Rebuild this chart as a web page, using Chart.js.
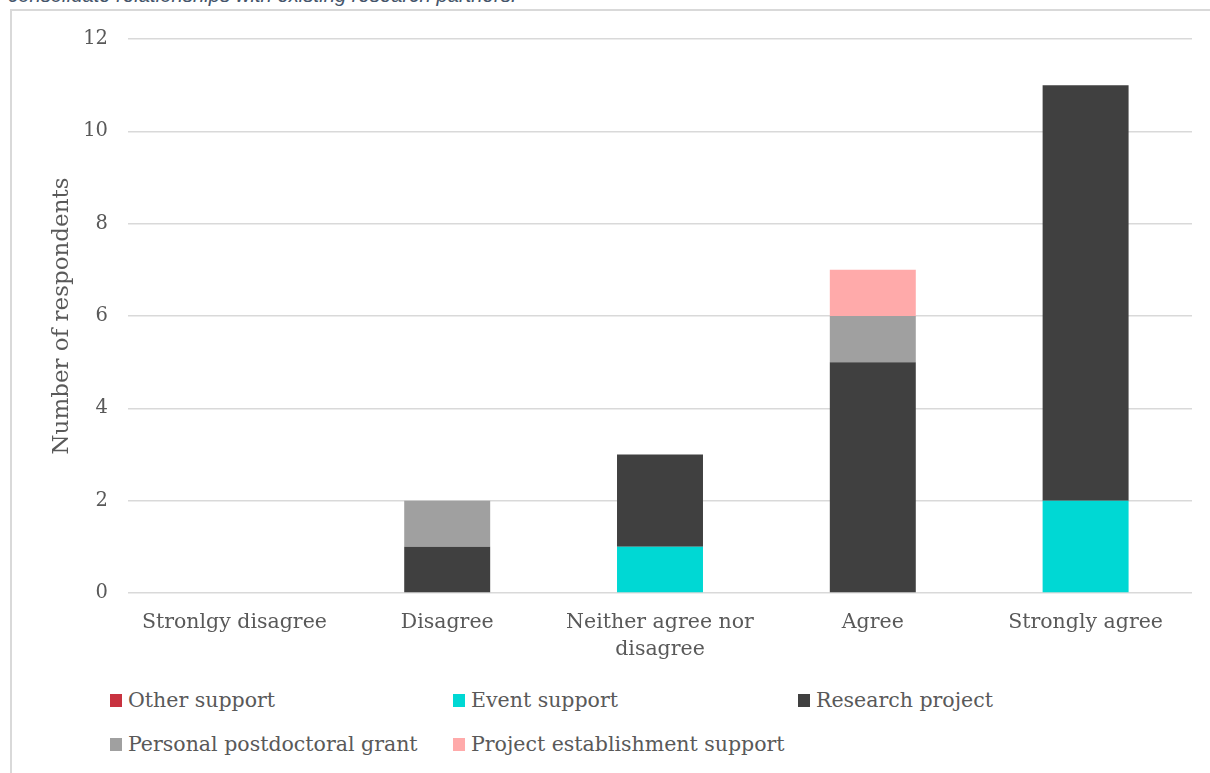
<!DOCTYPE html>
<html>
<head>
<meta charset="utf-8">
<script src="https://cdn.jsdelivr.net/npm/chart.js@4.4.1/dist/chart.umd.min.js"></script>
<style>
    html, body { margin: 0; padding: 0; background: #fff; overflow: hidden; }
    body { width: 1210px; height: 773px; position: relative; }
    .caption {
        position: absolute; left: 8px; top: -16px; white-space: nowrap;
        font: italic 20.3px "Liberation Sans", sans-serif; color: #44546a;
    }
    .frame {
        position: absolute; left: 10px; top: 9px; width: 1300px; height: 900px;
        border: 2px solid #d9d9d9; box-sizing: border-box;
    }
    #wrap { position: absolute; left: 0; top: 0; width: 1210px; height: 680px; }
    #legend {
        position: absolute; left: 110px; top: 686px;
        display: grid; grid-template-columns: 343px 345px 300px; row-gap: 16px;
        font: 20.5px "DejaVu Serif", serif; color: #595959;
    }
    #legend div { display: flex; align-items: center; height: 28px; white-space: nowrap; }
    #legend span { display: inline-block; width: 12px; height: 13px; margin-right: 6px; }
</style>
</head>
<body>
<div class="caption">consolidate relationships with existing research partners.</div>
<div class="frame"></div>
<div id="wrap"><canvas id="chart"></canvas></div>
<div id="legend"></div>
<script>
const categories = ['Stronlgy disagree', 'Disagree', ['Neither agree nor', 'disagree'], 'Agree', 'Strongly agree'];
const seriesNames = ['Other support', 'Event support', 'Research project', 'Personal postdoctoral grant', 'Project establishment support'];
const otherSupport = [0, 0, 0, 0, 0];
const eventSupport = [0, 0, 1, 0, 2];
const researchProject = [0, 1, 2, 5, 9];
const personalGrant = [0, 1, 0, 1, 0];
const projectEstablishment = [0, 0, 0, 1, 0];
const yTicks = [0, 2, 4, 6, 8, 10, 12];

const seriesColors = ['#c8323f', '#00d8d4', '#404040', '#a0a0a0', '#ffaaaa'];
const seriesData = [otherSupport, eventSupport, researchProject, personalGrant, projectEstablishment];

const textColor = '#595959';
const serif = '"DejaVu Serif", serif';

const chart = new Chart(document.getElementById('chart'), {
    type: 'bar',
    data: {
        labels: categories,
        datasets: seriesNames.map((name, i) => ({
            label: name,
            data: seriesData[i],
            backgroundColor: seriesColors[i],
            borderWidth: 0,
            categoryPercentage: 1,
            barPercentage: 0.404
        }))
    },
    options: {
        responsive: true,
        maintainAspectRatio: false,
        animation: false,
        layout: { padding: { top: 39, right: 18, left: 0, bottom: 0 } },
        plugins: {
            legend: { display: false },
            tooltip: { enabled: false }
        },
        scales: {
            x: {
                stacked: true,
                grid: { display: false, drawTicks: false },
                border: { display: false },
                ticks: {
                    color: textColor,
                    padding: 16,
                    maxRotation: 0,
                    autoSkip: false,
                    font: { family: serif, size: 20.5, lineHeight: 1.32 }
                },
                afterFit: (scale) => { scale.height = 87; }
            },
            y: {
                stacked: true,
                min: 0,
                max: 12,
                afterBuildTicks: (scale) => { scale.ticks = yTicks.map(v => ({ value: v })); },
                grid: { color: '#d9d9d9', lineWidth: 1.5, drawTicks: false },
                border: { display: false },
                ticks: {
                    color: textColor,
                    padding: 20,
                    font: { family: serif, size: 19.5 }
                },
                title: {
                    display: true,
                    text: 'Number of respondents',
                    color: textColor,
                    padding: { top: 48 },
                    font: { family: serif, size: 23 }
                },
                afterFit: (scale) => { scale.width = 128; }
            }
        }
    }
});

// legend laid out in columns like the original
const legend = document.getElementById('legend');
seriesNames.forEach((name, i) => {
    const item = document.createElement('div');
    item.innerHTML = `<span style="background:${seriesColors[i]}"></span>${name}`;
    legend.appendChild(item);
});
</script>
</body>
</html>
